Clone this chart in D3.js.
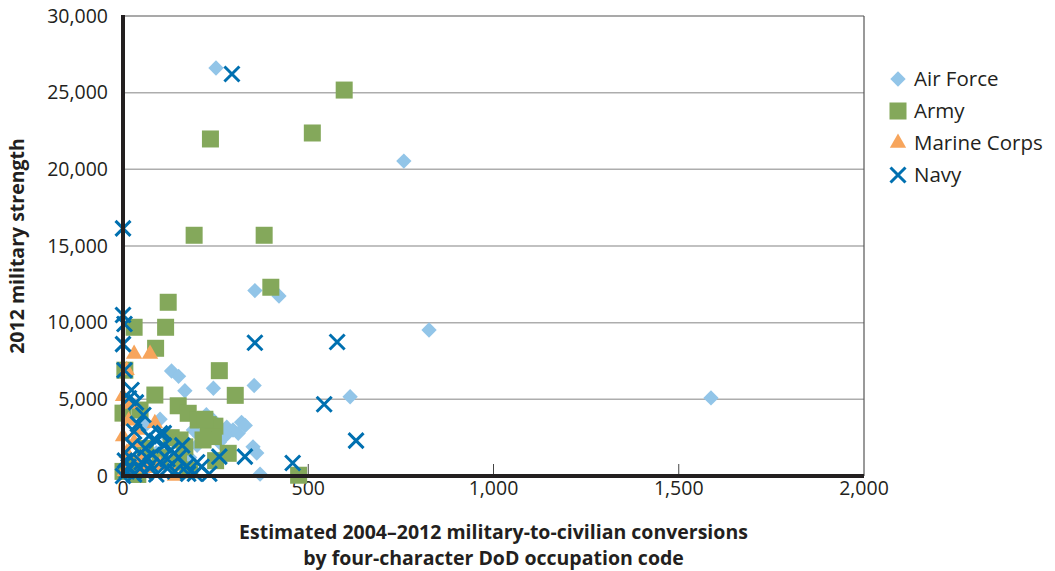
<html>
  <head>
    <script src="https://d3js.org/d3.v7.min.js"></script>
    <style>
      body { margin: 0; background: #fff; }
      text { font-family: "Open Sans", sans-serif; fill: #231f20; }
    </style>
  </head>
  <body>
    <div id="vis"></div>
  </body>
  <script>
    // data: [conversions, strength]
    var airForce = [
      [251, 26610], [758, 20540], [826, 9520], [1587, 5090], [356, 12090], [421, 11740],
      [131, 6850], [150, 6500], [167, 5560], [244, 5720], [354, 5900], [613, 5170],
      [280, 3180], [320, 3500], [297, 3000], [311, 2780], [243, 3650], [351, 1900],
      [361, 1500], [370, 120], [208, 2570], [100, 3700], [120, 2500], [60, 3300],
      [40, 2000], [90, 1500], [180, 1200], [200, 2000], [260, 2200], [140, 800],
      [70, 600], [20, 1000], [225, 4000], [190, 3000], [330, 3300], [275, 2600]
    ]
    var army = [
      [597, 25170], [511, 22370], [236, 21980], [192, 15700], [381, 15700], [122, 11330],
      [115, 9700], [30, 9700], [399, 12310], [88, 8330], [260, 6870], [5, 6900],
      [303, 5260], [86, 5280], [149, 4580], [0, 4100], [46, 4300], [176, 4090],
      [203, 3650], [230, 3350], [248, 3250], [221, 3700], [244, 2570], [284, 1480],
      [474, 50], [167, 1900], [154, 2350], [216, 2350], [60, 1800], [100, 1200],
      [130, 2500], [0, 300], [20, 800], [40, 100], [150, 900], [250, 1000], [180, 400]
    ]
    var marineCorps = [
      [30, 7960], [73, 7960], [10, 6900], [0, 5200], [86, 3440], [0, 2570],
      [140, 0], [20, 4700], [10, 1500], [30, 2200], [50, 1200], [5, 300],
      [60, 500], [40, 3000], [100, 700], [15, 3600]
    ]
    var navy = [
      [294, 26220], [0, 16150], [0, 10500], [4, 9910], [0, 8600], [356, 8690],
      [578, 8740], [4, 6900], [23, 5610], [16, 5070], [55, 3980], [543, 4680],
      [629, 2310], [100, 2780], [329, 1260], [260, 1260], [458, 850], [233, 150],
      [212, 600], [176, 150], [194, 150], [40, 3400], [30, 2900], [70, 2600],
      [90, 2300], [110, 2000], [130, 1700], [60, 1800], [80, 1400], [20, 1200],
      [50, 900], [100, 900], [150, 1200], [170, 600], [120, 500], [10, 300],
      [30, 100], [60, 200], [90, 100], [0, 0], [15, 600], [45, 500], [75, 700],
      [140, 300], [200, 900], [110, 2800], [35, 4800], [120, 1100], [160, 2000],
      [25, 2000], [5, 1000], [65, 1200]
    ]
    var seriesNames = ["Air Force", "Army", "Marine Corps", "Navy"]
    var seriesColors = ["#92c5e8", "#84a85b", "#f7a55c", "#0070b0"]
    var xTicks = [0, 500, 1000, 1500, 2000]
    var yTicks = [0, 5000, 10000, 15000, 20000, 25000, 30000]

    var W = 1055, H = 571
    var margin = {top: 16, right: 191, bottom: 95, left: 123}
    var width = W - margin.left - margin.right
    var height = H - margin.top - margin.bottom

    var svg = d3.select("#vis").append("svg")
      .attr("width", W)
      .attr("height", H)
    var g = svg.append("g")
      .attr("transform", "translate(" + margin.left + "," + margin.top + ")")

    var x = d3.scaleLinear().domain([0, 2000]).range([0, width])
    var y = d3.scaleLinear().domain([0, 30000]).range([height, 0])
    var fmt = d3.format(",")

    // gridlines
    g.selectAll(".grid")
      .data(yTicks.filter(function(d) { return d > 0 && d < 30000 }))
      .enter().append("line")
      .attr("x1", 0).attr("x2", width)
      .attr("y1", function(d) { return y(d) }).attr("y2", function(d) { return y(d) })
      .attr("stroke", "#adadad").attr("stroke-width", 1.5)

    // top + right border
    g.append("line").attr("x1", 0).attr("x2", width).attr("y1", 0).attr("y2", 0)
      .attr("stroke", "#555").attr("stroke-width", 1.2)
    g.append("line").attr("x1", width).attr("x2", width).attr("y1", 0).attr("y2", height)
      .attr("stroke", "#555").attr("stroke-width", 1.2)

    // x ticks (small, pointing up)
    g.selectAll(".xtick")
      .data(xTicks.slice(1, 4))
      .enter().append("line")
      .attr("x1", function(d) { return x(d) }).attr("x2", function(d) { return x(d) })
      .attr("y1", height).attr("y2", height - 12)
      .attr("stroke", "#444").attr("stroke-width", 1)

    // tick labels
    g.selectAll(".xlab")
      .data(xTicks)
      .enter().append("text")
      .attr("x", function(d) { return x(d) })
      .attr("y", height + 19)
      .attr("text-anchor", "middle")
      .style("font-size", "19.5px")
      .text(function(d) { return fmt(d) })

    g.selectAll(".ylab")
      .data(yTicks)
      .enter().append("text")
      .attr("x", -15)
      .attr("y", function(d) { return y(d) })
      .attr("dy", "0.35em")
      .attr("text-anchor", "end")
      .style("font-size", "19.5px")
      .text(function(d) { return fmt(d) })

    // markers
    var diamond = d3.symbol().type(d3.symbolDiamond2).size(150)
    var triangle = d3.symbol().type(d3.symbolTriangle).size(115)

    function drawAirForce(sel, c) {
      sel.append("path").attr("d", diamond).attr("fill", c)
    }
    function drawArmy(sel, c) {
      sel.append("rect").attr("x", -8.5).attr("y", -8.5).attr("width", 17).attr("height", 17).attr("fill", c)
    }
    function drawMarine(sel, c) {
      sel.append("path").attr("d", triangle).attr("fill", c)
    }
    function drawNavy(sel, c) {
      sel.append("path").attr("d", "M-7.5,-7.5L7.5,7.5M-7.5,7.5L7.5,-7.5")
        .attr("stroke", c).attr("stroke-width", 3).attr("fill", "none")
    }
    var drawers = [drawAirForce, drawArmy, drawMarine, drawNavy]
    var allSeries = [airForce, army, marineCorps, navy]

    allSeries.forEach(function(data, i) {
      g.append("g").selectAll("g")
        .data(data)
        .enter().append("g")
        .attr("transform", function(d) { return "translate(" + x(d[0]) + "," + y(d[1]) + ")" })
        .each(function() { drawers[i](d3.select(this), seriesColors[i]) })
    })

    // axes lines (drawn on top like the original)
    g.append("line").attr("x1", 0).attr("x2", 0).attr("y1", -1).attr("y2", height + 2)
      .attr("stroke", "#231f20").attr("stroke-width", 4)
    g.append("line").attr("x1", -2).attr("x2", width).attr("y1", height).attr("y2", height)
      .attr("stroke", "#231f20").attr("stroke-width", 4)

    // axis titles
    svg.append("text")
      .attr("transform", "translate(24," + (margin.top + height / 2) + ") rotate(-90)")
      .attr("text-anchor", "middle")
      .style("font-size", "19.5px").style("font-weight", "bold")
      .text("2012 military strength")

    var xt = svg.append("text")
      .attr("text-anchor", "middle")
      .style("font-size", "19.5px").style("font-weight", "bold")
    xt.append("tspan").attr("x", margin.left + width / 2).attr("y", 539)
      .text("Estimated 2004–2012 military-to-civilian conversions")
    xt.append("tspan").attr("x", margin.left + width / 2).attr("y", 565)
      .text("by four-character DoD occupation code")

    // legend
    var legend = svg.append("g").attr("transform", "translate(898,79)")
    seriesNames.forEach(function(name, i) {
      var row = legend.append("g").attr("transform", "translate(0," + (i * 32) + ")")
      drawers[i](row, seriesColors[i])
      row.append("text")
        .attr("x", 16)
        .attr("dy", "0.35em")
        .style("font-size", "20.5px")
        .text(name)
    })
  </script>
</html>
